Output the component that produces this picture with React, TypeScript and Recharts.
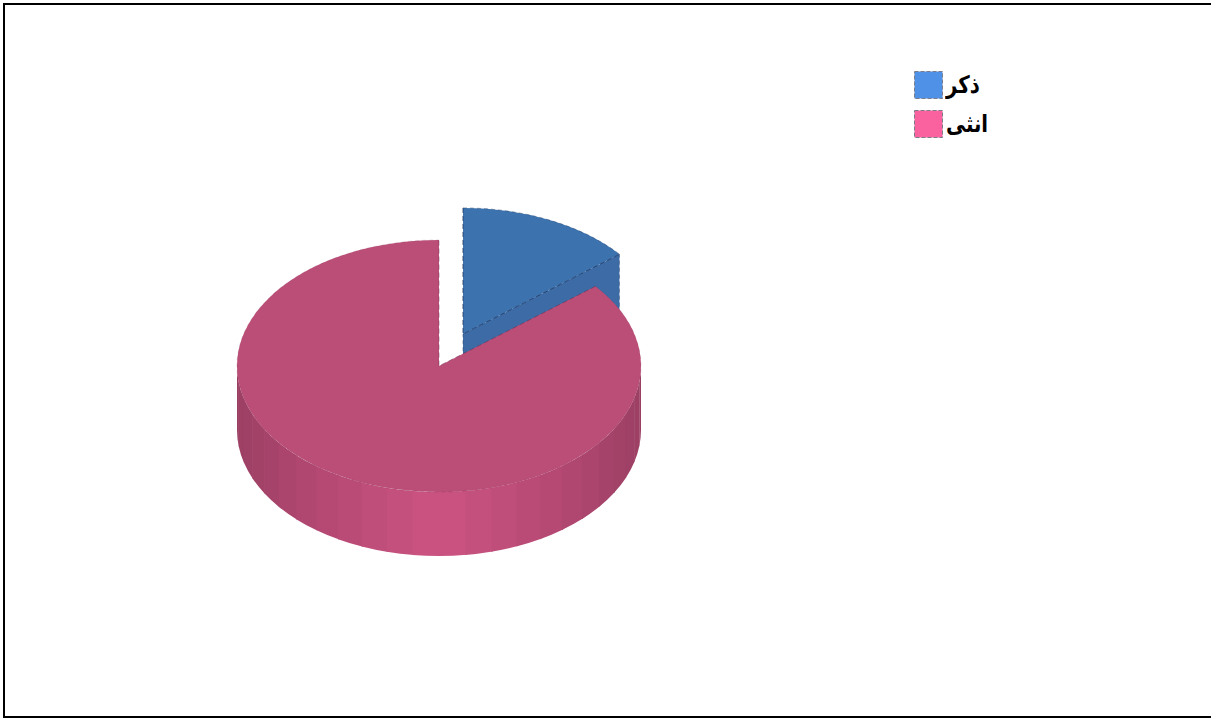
import React from 'react';
import { PieChart, Pie, Legend } from 'recharts';

// Gender split shown as an extruded pie with the first slice pulled out.
const categories = ['ذكر', 'انثى'];
const shares = [14.1, 85.9];
const legendColors = ['#5091e8', '#f9629f'];

const rows = categories.map((name, i) => ({ name, value: shares[i], fill: legendColors[i] }));

const WIDTH = 1211;
const HEIGHT = 718;
const TILT = 0.624; // vertical squash of the circle
const DEPTH = 64; // height of the extruded wall
const BAND = 7.5; // angular width of one shaded wall facet
const PULL = { dx: 24, dy: -32 }; // offset of the pulled-out slice

const rad = (d: number) => (d * Math.PI) / 180;

function scale(hex: string, r: number, g: number, b: number) {
  const n = parseInt(hex.slice(1), 16);
  const ch = (v: number) => Math.round(v).toString(16).padStart(2, '0');
  return `#${ch(((n >> 16) & 255) * r)}${ch(((n >> 8) & 255) * g)}${ch((n & 255) * b)}`;
}

// Brightness of a wall facet: strongest at the front of the rim, falling off to the sides.
function wallBrightness(offFront: number) {
  const d = Math.abs(offFront);
  return d <= 60 ? 0.82 - (0.165 * d) / 60 : 0.655 - (0.04 * (d - 60)) / 30;
}

function Slice(props: any) {
  const { cx, cy, outerRadius: rx, startAngle, endAngle, fill, name } = props;
  const pulled = name === categories[0];
  const x0 = cx + (pulled ? PULL.dx : 0);
  const y0 = cy + (pulled ? PULL.dy : 0);
  const ry = rx * TILT;
  const pt = (a: number, drop = 0): [number, number] => [
    x0 + rx * Math.cos(rad(a)),
    y0 - ry * Math.sin(rad(a)) + drop,
  ];
  const top = scale(fill, 0.75, 0.795, 0.75);
  const edge = scale(fill, 0.4, 0.4, 0.45);

  // Facets of the outer wall, only on the half of the rim that faces the viewer.
  // Each facet runs slightly under its neighbour so no hairline shows between them.
  const facets: React.ReactNode[] = [];
  for (let lo = -180; lo < 0; lo += BAND) {
    const hi = lo + BAND;
    const covered = [0, -360].some((k) => lo + k >= endAngle && hi + k <= startAngle);
    if (!covered) continue;
    const f = wallBrightness(lo + BAND / 2 + 90);
    const over = Math.min(hi + 0.4, 0);
    const [ax, ay] = pt(lo);
    const [bx, by] = pt(over);
    const [ux, uy] = pt(over, DEPTH);
    const [vx, vy] = pt(lo, DEPTH);
    facets.push(
      <path
        key={lo}
        d={`M${ax},${ay} A${rx},${ry} 0 0 0 ${bx},${by} L${ux},${uy} A${rx},${ry} 0 0 1 ${vx},${vy} Z`}
        fill={scale(fill, f, f * 1.03, f)}
      />,
    );
  }

  // Cut faces that turn toward the viewer.
  const faces: React.ReactNode[] = [];
  const addFace = (a: number, key: string) => {
    const [px, py] = pt(a);
    const [qx, qy] = pt(a, DEPTH);
    faces.push(
      <path
        key={key}
        d={`M${x0},${y0} L${px},${py} L${qx},${qy} L${x0},${y0 + DEPTH} Z`}
        fill={scale(fill, 0.75, 0.74, 0.715)}
        stroke={edge}
        strokeOpacity={0.6}
        strokeWidth={0.8}
        strokeDasharray="4 3"
      />,
    );
  };
  if (Math.sin(rad(endAngle - 90)) < -1e-6) addFace(endAngle, 'end');
  if (Math.sin(rad(startAngle + 90)) < -1e-6) addFace(startAngle, 'start');

  const [sx, sy] = pt(startAngle);
  const [ex, ey] = pt(endAngle);
  const large = startAngle - endAngle > 180 ? 1 : 0;
  return (
    <g>
      {facets}
      {faces}
      <path d={`M${x0},${y0} L${sx},${sy} A${rx},${ry} 0 ${large} 1 ${ex},${ey} Z`} fill={top} stroke="none" />
      <path
        d={`M${sx},${sy} A${rx},${ry} 0 ${large} 1 ${ex},${ey}`}
        fill="none"
        stroke={edge}
        strokeOpacity={pulled ? 0.55 : 0.2}
        strokeWidth={0.8}
        strokeDasharray="4 3"
      />
      <path
        d={`M${sx},${sy} L${x0},${y0} L${ex},${ey}`}
        fill="none"
        stroke={edge}
        strokeOpacity={pulled ? 0.9 : 0.5}
        strokeWidth={0.9}
        strokeDasharray="5 3"
      />
    </g>
  );
}

function LegendList({ payload }: any) {
  return (
    <div>
      {(payload || []).map((entry: any) => (
        <div key={entry.value} style={{ display: 'flex', alignItems: 'center', height: 39.5 }}>
          <svg width={29} height={28} style={{ display: 'block' }}>
            <rect x={0.5} y={0.5} width={28} height={27} fill={entry.color} stroke="#7c7c88" strokeDasharray="4 2" />
          </svg>
          <span
            style={{
              display: 'inline-block',
              marginLeft: 3,
              fontFamily: '"DejaVu Sans", sans-serif',
              fontWeight: 700,
              fontSize: 24,
              lineHeight: '28px',
              color: '#000',
              transform: 'scaleX(0.82)',
              transformOrigin: 'left center',
            }}
          >
            {entry.value}
          </span>
        </div>
      ))}
    </div>
  );
}

export default function App() {
  return (
    <div style={{ position: 'fixed', left: 0, top: 0, width: WIDTH, height: HEIGHT, overflow: 'hidden', background: '#fff' }}>
      <div
        style={{
          position: 'absolute',
          left: 3,
          top: 3,
          width: WIDTH + 20,
          height: HEIGHT - 3,
          boxSizing: 'border-box',
          border: '2px solid #000',
        }}
      />
      <PieChart width={WIDTH} height={HEIGHT} margin={{ top: 0, right: 0, bottom: 0, left: 0 }}>
        <Pie
          data={rows}
          dataKey="value"
          nameKey="name"
          cx={439}
          cy={366}
          innerRadius={0}
          outerRadius={202}
          startAngle={90}
          endAngle={-270}
          stroke="none"
          shape={Slice}
          isAnimationActive={false}
        />
        <Legend
          content={<LegendList />}
          layout="vertical"
          verticalAlign="top"
          align="right"
          itemSorter={null}
          wrapperStyle={{ left: 914, right: 'auto', top: 65, width: 120 }}
        />
      </PieChart>
    </div>
  );
}
